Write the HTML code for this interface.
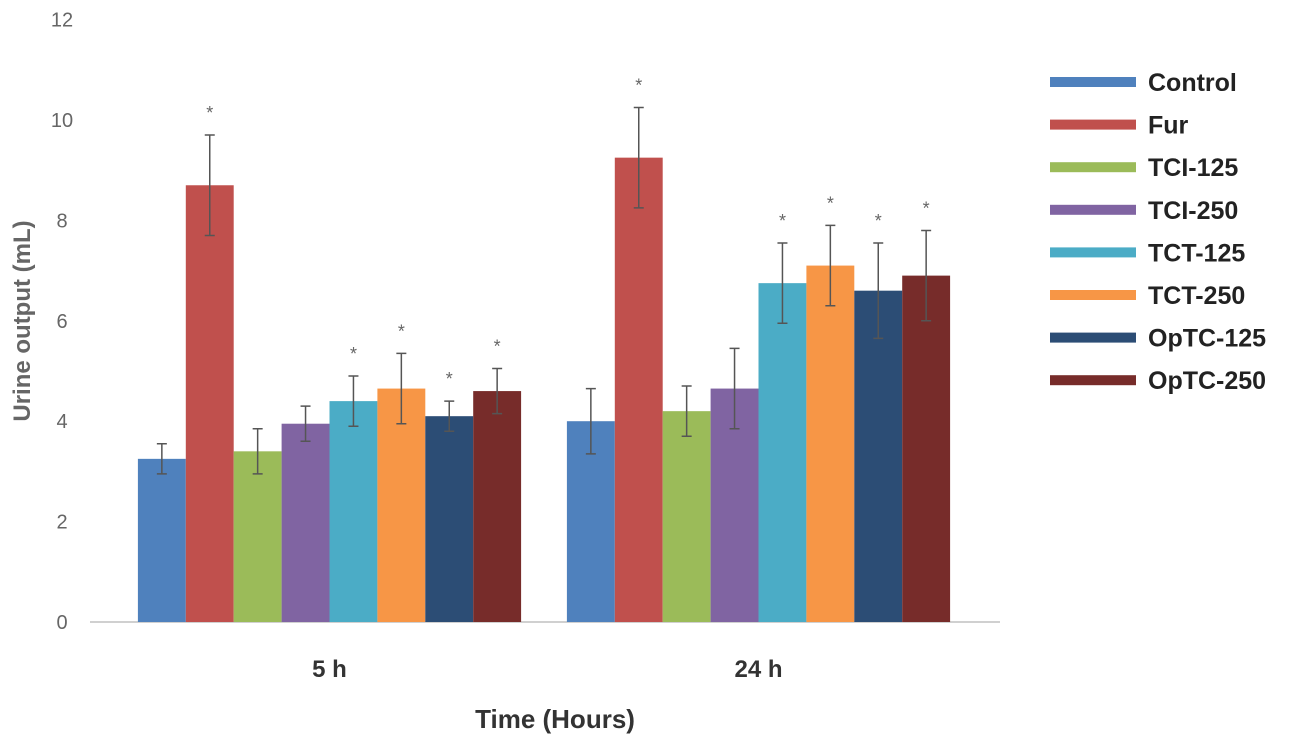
<!DOCTYPE html>
<html><head><meta charset="utf-8"><style>
body{margin:0;background:#fff;}
svg text{font-family:"Liberation Sans",sans-serif;}
</style></head><body>
<svg id="chart" width="1301" height="744">
<g id="yaxis"></g>
<line x1="90" y1="622" x2="1000" y2="622" stroke="#d0d0d0" stroke-width="2"/>
<g id="bars"></g>
<g id="xlabels"></g>
<text x="555" y="728" text-anchor="middle" font-size="26" font-weight="bold" fill="#333">Time (Hours)</text>
<text transform="translate(30,321) rotate(-90)" text-anchor="middle" font-size="24" font-weight="bold" fill="#666">Urine output (mL)</text>
<g id="legend"></g>
</svg>
<script>
const categories=["5 h","24 h"];
const series=["Control","Fur","TCI-125","TCI-250","TCT-125","TCT-250","OpTC-125","OpTC-250"];
const colors=["#4F81BD","#C0504D","#9BBB59","#8064A2","#4BACC6","#F79646","#2C4D75","#772C2A"];
const values5h=[3.25,8.7,3.4,3.95,4.4,4.65,4.1,4.6];
const values24h=[4.0,9.25,4.2,4.65,6.75,7.1,6.6,6.9];
const errors5h=[0.3,1.0,0.45,0.35,0.5,0.7,0.3,0.45];
const errors24h=[0.65,1.0,0.5,0.8,0.8,0.8,0.95,0.9];
const sig5h=[0,1,0,0,1,1,1,1];
const sig24h=[0,1,0,0,1,1,1,1];
const yTicks=[0,2,4,6,8,10,12];
const values=[values5h,values24h],errors=[errors5h,errors24h],sigs=[sig5h,sig24h];
const NS="http://www.w3.org/2000/svg";
const y=v=>622-v*50.2;
const x0=115,catW=429,barW=47.9;
const x=(c,s)=>x0+catW*c+catW/2-barW*series.length/2+barW*s;
function mk(tag,attrs,parent){const e=document.createElementNS(NS,tag);for(const k in attrs)e.setAttribute(k,attrs[k]);parent.appendChild(e);return e;}
const ya=document.getElementById('yaxis');
yTicks.forEach(t=>{const e=mk('text',{x:62,y:y(t)+7,'text-anchor':'middle','font-size':20,fill:'#666'},ya);e.textContent=t;

});
const bg=document.getElementById('bars');
categories.forEach((c,ci)=>{series.forEach((s,si)=>{const v=values[ci][si],er=errors[ci][si],bx=x(ci,si),cx=bx+barW/2;
const r=mk('rect',{x:bx,y:y(v),width:barW,height:y(0)-y(v),fill:colors[si]},bg);


const eb=mk('path',{d:`M${cx},${y(v-er)}V${y(v+er)}M${cx-5},${y(v-er)}H${cx+5}M${cx-5},${y(v+er)}H${cx+5}`,stroke:'#555','stroke-width':1.5,fill:'none'},bg);


if(sigs[ci][si]){const a=mk('text',{x:cx,y:y(v+er)-16,'text-anchor':'middle','font-size':18,fill:'#666'},bg);a.textContent='*';

}
});
const l=mk('text',{x:x0+catW*ci+catW/2,y:677,'text-anchor':'middle','font-size':24,'font-weight':'bold',fill:'#333'},document.getElementById('xlabels'));l.textContent=c;

});
const lg=document.getElementById('legend');
series.forEach((s,i)=>{const ly=82+i*42.6;
const sw=mk('rect',{x:1050,y:ly-5,width:86,height:10,fill:colors[i]},lg);


const t=mk('text',{x:1148,y:ly+9,'font-size':25,'font-weight':'bold',fill:'#222'},lg);t.textContent=s;

});
</script>
</body></html>
